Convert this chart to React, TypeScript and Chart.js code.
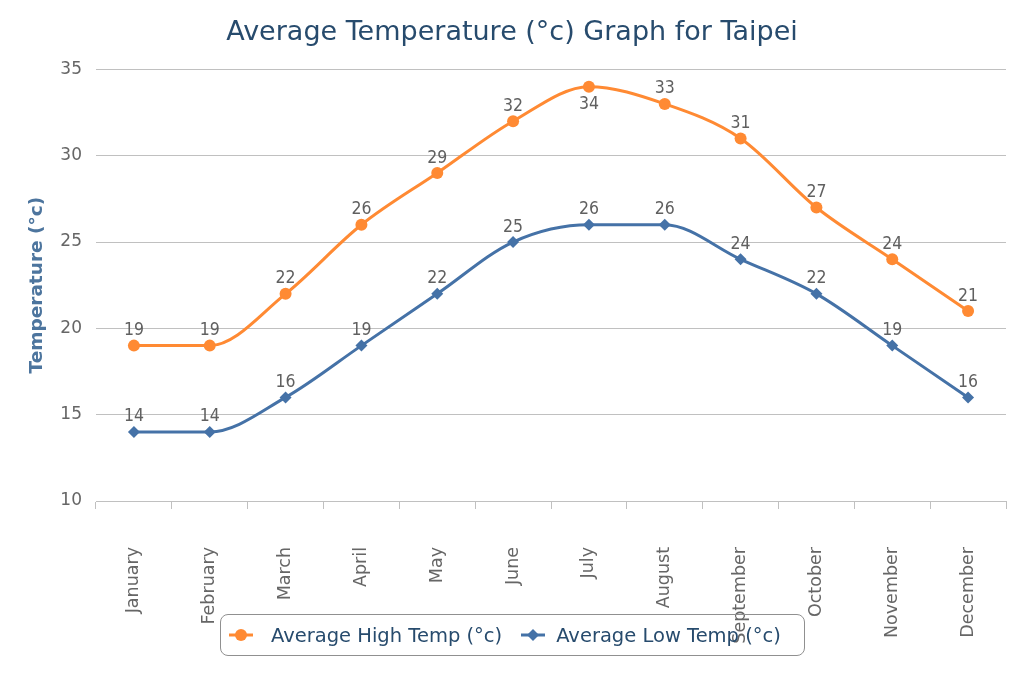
import React, { useEffect, useRef } from "react";
import { Chart, registerables } from "chart.js";

Chart.register(...registerables);

const months = [
  "January", "February", "March", "April", "May", "June",
  "July", "August", "September", "October", "November", "December",
];
const highTemps = [19, 19, 22, 26, 29, 32, 34, 33, 31, 27, 24, 21];
const lowTemps = [14, 14, 16, 19, 22, 25, 26, 26, 24, 22, 19, 16];
const yMin = 10;
const yMax = 35;
const yStep = 5;

const titleText = "Average Temperature (°c) Graph for Taipei";
const yTitleText = "Temperature (°c)";
const highName = "Average High Temp (°c)";
const lowName = "Average Low Temp (°c)";

const HIGH_COLOR = "#ff8a33";
const LOW_COLOR = "#4572a7";
const FONT = "'DejaVu Sans', sans-serif";
const FONT_COND = "'DejaVu Sans Condensed', 'DejaVu Sans', sans-serif";

const dataLabelPlugin = {
  id: "dataLabels",
  afterDatasetsDraw(chart: any) {
    const ctx = chart.ctx;
    const top = chart.chartArea.top;
    ctx.save();
    ctx.font = `17.5px ${FONT_COND}`;
    ctx.fillStyle = "#606060";
    ctx.textAlign = "center";
    ctx.textBaseline = "middle";
    chart.data.datasets.forEach((ds: any, i: number) => {
      const meta = chart.getDatasetMeta(i);
      meta.data.forEach((pt: any, j: number) => {
        const v = ds.data[j];
        let y = pt.y - 15;
        if (y - 8 < top) y = pt.y + 18;
        ctx.fillText(String(v), pt.x, y);
      });
    });
    ctx.restore();
  },
};

function LegendSymbol({ color, shape }: { color: string; shape: "circle" | "diamond" }) {
  return (
    <svg width="24" height="14" style={{ display: "block", flex: "none" }}>
      <line x1="0" y1="7" x2="24" y2="7" stroke={color} strokeWidth="3" />
      {shape === "circle" ? (
        <circle cx="12" cy="7" r="6" fill={color} />
      ) : (
        <polygon points="12,1 18,7 12,13 6,7" fill={color} />
      )}
    </svg>
  );
}

export default function App() {
  const canvasRef = useRef<HTMLCanvasElement | null>(null);

  useEffect(() => {
    document.body.style.margin = "0";
    const canvas = canvasRef.current;
    if (!canvas) return;
    const chart = new Chart(canvas, {
      type: "line",
      data: {
        labels: months,
        datasets: [
          {
            label: highName,
            data: highTemps,
            borderColor: HIGH_COLOR,
            backgroundColor: HIGH_COLOR,
            borderWidth: 3,
            pointStyle: "circle",
            pointRadius: 6,
            pointBorderWidth: 0,
            pointHoverRadius: 6,
            cubicInterpolationMode: "monotone",
          },
          {
            label: lowName,
            data: lowTemps,
            borderColor: LOW_COLOR,
            backgroundColor: LOW_COLOR,
            borderWidth: 3,
            pointStyle: "rectRot",
            pointRadius: 6,
            pointBorderWidth: 0,
            pointHoverRadius: 6,
            cubicInterpolationMode: "monotone",
          },
        ],
      },
      options: {
        responsive: false,
        animation: false,
        layout: { padding: { left: 0, right: 0, top: 0, bottom: 0 } },
        plugins: {
          legend: { display: false },
          tooltip: { enabled: false },
          title: {
            display: true,
            text: titleText,
            color: "#274b6d",
            font: { family: FONT, size: 27, weight: "normal" },
            padding: { top: 17, bottom: 20 },
          },
        },
        scales: {
          x: {
            offset: true,
            grid: {
              offset: true,
              drawOnChartArea: false,
              drawTicks: true,
              tickLength: 8,
              color: "#c0c0c0",
            },
            border: { display: true, color: "#c0c0c0" },
            ticks: {
              color: "#666666",
              font: { family: FONT, size: 17.5 },
              minRotation: 90,
              maxRotation: 90,
              autoSkip: false,
              padding: 38,
            },
            afterFit: (scale: any) => {
              scale.height = 182;
              scale.paddingRight = 0;
              scale.paddingLeft = 0;
            },
          },
          y: {
            min: yMin,
            max: yMax,
            grid: { color: "#c0c0c0", drawTicks: false, lineWidth: 1 },
            border: { display: false },
            ticks: {
              stepSize: yStep,
              color: "#666666",
              font: { family: FONT, size: 17 },
              padding: 14,
            },
            title: {
              display: true,
              text: yTitleText,
              color: "#4d759e",
              font: { family: FONT, size: 18.5, weight: "bold" },
              padding: { top: 26, bottom: 0 },
            },
            afterFit: (scale: any) => {
              scale.width = 96;
            },
          },
          yRightSpacer: {
            type: "linear",
            position: "right",
            display: true,
            grid: { display: false, drawTicks: false },
            border: { display: false },
            ticks: { display: false },
            afterFit: (scale: any) => {
              scale.width = 18;
            },
          },
        },
      },
      plugins: [dataLabelPlugin],
    });
    return () => chart.destroy();
  }, []);

  const legendText: React.CSSProperties = {
    fontFamily: FONT,
    fontSize: 19.5,
    color: "#274b6d",
    whiteSpace: "nowrap",
  };

  return (
    <div style={{ position: "relative", width: 1024, height: 683 }}>
      <canvas ref={canvasRef} width={1024} height={683} style={{ display: "block" }} />
      <div
        style={{
          position: "absolute",
          left: 220,
          top: 614,
          width: 585,
          height: 42,
          boxSizing: "border-box",
          border: "1px solid #909090",
          borderRadius: 8,
          background: "transparent",
          display: "flex",
          alignItems: "center",
          paddingLeft: 8,
        }}
      >
        <LegendSymbol color={HIGH_COLOR} shape="circle" />
        <span style={{ ...legendText, marginLeft: 18 }}>{highName}</span>
        <span style={{ width: 19, flex: "none" }} />
        <LegendSymbol color={LOW_COLOR} shape="diamond" />
        <span style={{ ...legendText, marginLeft: 11 }}>{lowName}</span>
      </div>
    </div>
  );
}
